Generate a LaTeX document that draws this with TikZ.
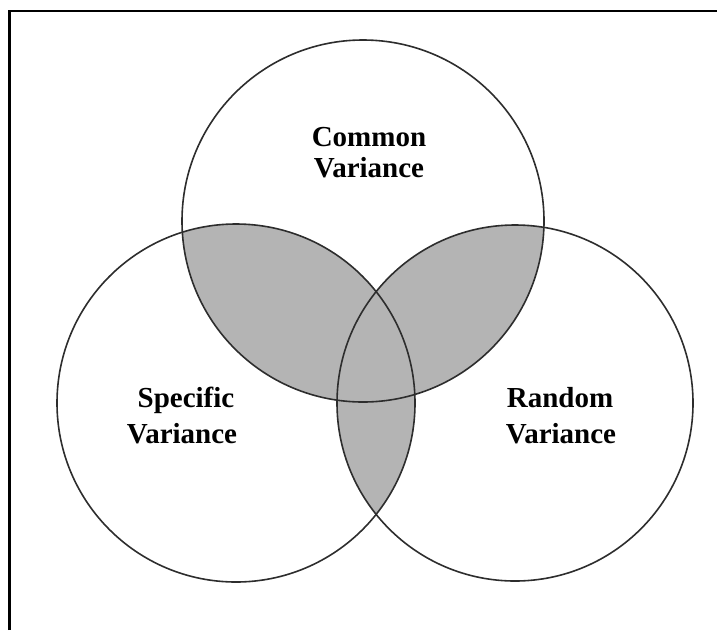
\documentclass[tikz,border=0pt]{standalone}
\usepackage{fontspec}
\setmainfont{Liberation Serif}
\definecolor{ringcol}{RGB}{45,45,45}
\definecolor{greyfill}{RGB}{180,180,180}
\begin{document}
\begin{tikzpicture}[x=1pt,y=-1pt,
  ring/.style={draw=ringcol,line width=1.6pt},
  overlap/.style={fill=greyfill},
  lbl/.style={anchor=base,inner sep=0pt,font=\fontsize{29}{34}\bfseries\selectfont},
  frameline/.style={line width=2.5pt,black}]
\useasboundingbox (0,0) rectangle (717,630);
% circle centres
\coordinate (T) at (363,221);
\coordinate (L) at (236,403);
\coordinate (R) at (515,403);
% shaded overlaps
\begin{scope}
  \clip (T) circle (181);
  \path[overlap] (L) circle (179);
  \path[overlap] (R) circle (178);
\end{scope}
\begin{scope}
  \clip (L) circle (179);
  \path[overlap] (R) circle (178);
\end{scope}
% outlines
\draw[ring] (T) circle (181);
\draw[ring] (L) circle (179);
\draw[ring] (R) circle (178);
% frame
\coordinate (f1) at (9.5,630);
\coordinate (f2) at (9.5,11);
\coordinate (f3) at (717,11);
\draw[frameline] (f1) -- (f2) -- (f3);
% labels
\node[lbl] (c1) at (369,146) {Common};
\node[lbl] (c2) at (369,177) {Variance};
\node[lbl] (s1) at (186,407) {Specific};
\node[lbl] (s2) at (182,443) {Variance};
\node[lbl] (r1) at (560,407) {Random};
\node[lbl] (r2) at (561,443) {Variance};
\end{tikzpicture}
\end{document}
